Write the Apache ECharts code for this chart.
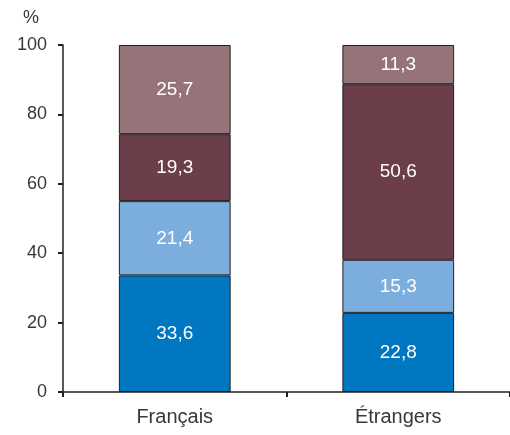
<!DOCTYPE html>
<html><head><meta charset="utf-8">
<script src="https://cdn.jsdelivr.net/npm/echarts@6/dist/echarts.min.js"></script>
<style>html,body{margin:0;padding:0;background:#fff}#c{width:510px;height:435px}</style>
</head><body><div id="c"></div>
<script>
const categories = ['Français', 'Étrangers'];
const seriesNames = ['s1', 's2', 's3', 's4'];
const s1 = [33.6, 22.8];
const s2 = [21.4, 15.3];
const s3 = [19.3, 50.6];
const s4 = [25.7, 11.3];
const yTicks = [0, 20, 40, 60, 80, 100];
const colors = ['#0077C0', '#7BAEDD', '#6C3E4A', '#967378'];
const values = [s1, s2, s3, s4];
const FF = 'Liberation Sans, Arial, sans-serif';

const chart = echarts.init(document.getElementById('c'));
chart.setOption({
  animation: false,
  grid: { left: 63, top: 45, width: 448, bottom: 43, containLabel: false },
  xAxis: {
    type: 'category', data: categories,
    axisLine: { lineStyle: { color: '#231F20', width: 1.5 } },
    axisTick: { show: true, length: 5, lineStyle: { color: '#231F20', width: 2 } },
    axisLabel: { color: '#383838', fontSize: 20, fontFamily: FF, margin: 15 }
  },
  yAxis: {
    type: 'value', min: 0, max: 100, interval: 20,
    name: '%', nameLocation: 'end', nameGap: 18,
    nameTextStyle: { color: '#383838', fontSize: 18, fontFamily: FF, align: 'right', padding: [0, 24, 0, 0] },
    axisLine: { show: true, lineStyle: { color: '#231F20', width: 1.5 } },
    axisTick: { show: true, length: 5, lineStyle: { color: '#231F20', width: 2 } },
    splitLine: { show: false },
    axisLabel: { color: '#383838', fontSize: 18, fontFamily: FF, margin: 16,
      formatter: v => yTicks.includes(v) ? String(v) : '' }
  },
  series: values.map((d, i) => ({
    name: seriesNames[i], type: 'bar', stack: 'a', data: d, barWidth: '50%',
    itemStyle: { color: colors[i], borderColor: '#231F20', borderWidth: 1 },
    label: { show: true, position: 'inside', color: '#fff', fontSize: 19, fontFamily: FF,
      formatter: p => String(p.value).replace('.', ',') }
  }))
});
</script></body></html>
